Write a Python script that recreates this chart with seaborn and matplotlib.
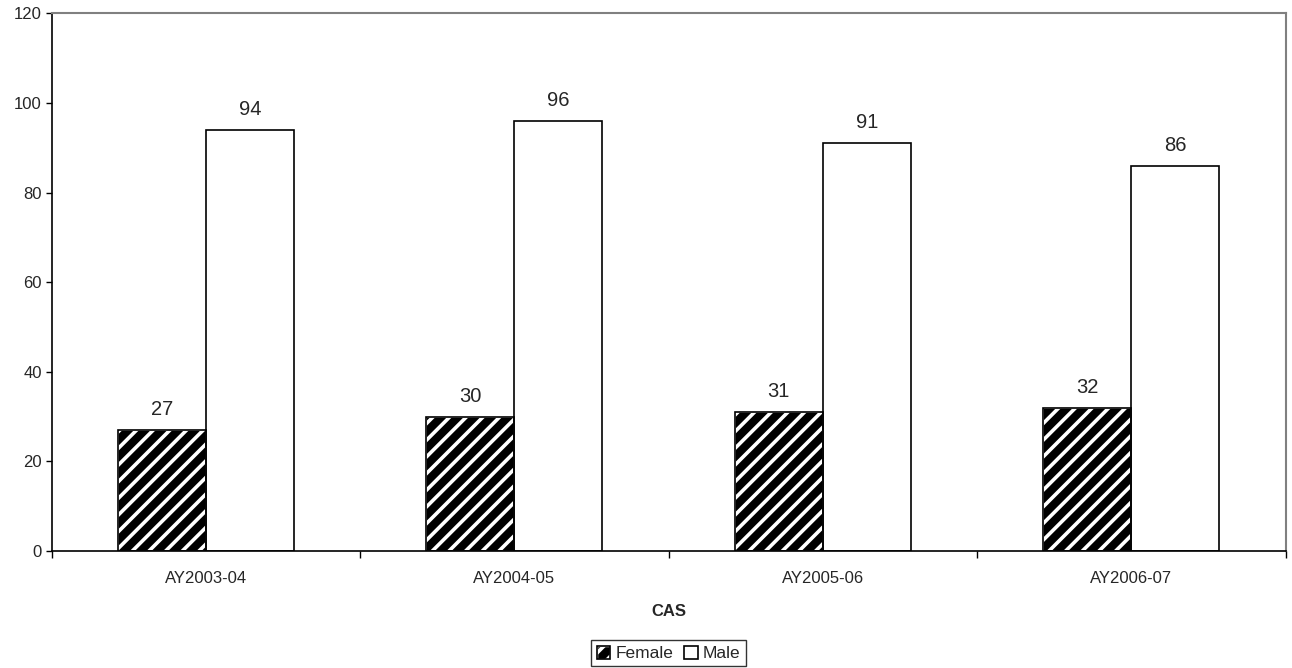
import pandas as pd
import matplotlib.pyplot as plt
import seaborn as sns
from matplotlib.patches import Patch, Rectangle
from matplotlib.legend_handler import HandlerTuple
from matplotlib.ticker import FixedLocator

# data
years = ["AY2003-04", "AY2004-05", "AY2005-06", "AY2006-07"]
female = [27, 30, 31, 32]
male = [94, 96, 91, 86]

df = pd.DataFrame({
    "year": years * 2,
    "gender": ["Female"] * len(years) + ["Male"] * len(years),
    "count": female + male,
})

sns.set_style("white")
plt.rcParams["font.family"] = ["Liberation Sans", "DejaVu Sans"]
plt.rcParams["hatch.linewidth"] = 2.6

fig, ax = plt.subplots(figsize=(12.92, 6.68), dpi=100)
sns.barplot(data=df, x="year", y="count", hue="gender", order=years,
            hue_order=["Female", "Male"], palette=["white", "white"],
            width=0.57, edgecolor="black", linewidth=1.2, legend=False, ax=ax)

n = len(years)
for i, rect in enumerate(list(ax.patches[:2 * n])):
    if i < n:
        # black bar with white diagonal stripes, black outline on top
        rect.set_facecolor("black")
        rect.set_edgecolor("white")
        rect.set_hatch("//")
        ax.add_patch(Rectangle((rect.get_x(), rect.get_y()), rect.get_width(), rect.get_height(),
                               facecolor="none", edgecolor="black", linewidth=1.2, zorder=3))
    ax.annotate("%d" % rect.get_height(), (rect.get_x() + rect.get_width() / 2, rect.get_height()),
                xytext=(0, 8), textcoords="offset points", ha="center", va="bottom", fontsize=14.5)

ax.set_xlim(-0.5, n - 0.5)
ax.set_ylim(0, 120)
ax.set_yticks(range(0, 121, 20))
ax.tick_params(axis="y", labelsize=12, length=4, width=1, direction="out", left=True, color="black", pad=3)
ax.tick_params(axis="x", which="major", labelsize=12, length=0, pad=14)
ax.xaxis.set_minor_locator(FixedLocator([k - 0.5 for k in range(n + 1)]))
ax.tick_params(axis="x", which="minor", length=5, width=1, direction="out", bottom=True, color="black")
ax.set_xlabel("CAS", fontsize=12, fontweight="bold", labelpad=13)
ax.set_ylabel("")

for side in ["left", "bottom"]:
    ax.spines[side].set_color("black")
    ax.spines[side].set_linewidth(1.2)
for side in ["top", "right"]:
    ax.spines[side].set_color("#808080")
    ax.spines[side].set_linewidth(1.5)

fem_handle = (Patch(facecolor="black", edgecolor="white", hatch="//"),
              Patch(facecolor="none", edgecolor="black", linewidth=1.2))
male_handle = Patch(facecolor="white", edgecolor="black", linewidth=1.2)
leg = ax.legend([fem_handle, male_handle], ["Female", "Male"],
                handler_map={tuple: HandlerTuple(ndivide=1, pad=0)},
                loc="upper center", bbox_to_anchor=(0.5, -0.166), ncol=2,
                frameon=True, fancybox=False, fontsize=12.5, handlelength=0.8, handleheight=0.8,
                handletextpad=0.3, columnspacing=0.6, borderpad=0.3, borderaxespad=0)
leg.get_frame().set_edgecolor("black")
leg.get_frame().set_linewidth(1)

fig.subplots_adjust(left=0.040, right=0.995, top=0.980, bottom=0.175)
fig.savefig("out.png", dpi=100)
